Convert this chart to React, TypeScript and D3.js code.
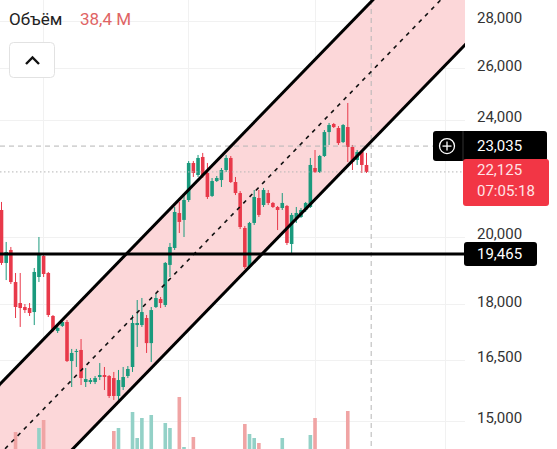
import React from 'react';
import * as d3 from 'd3';

const W = 557;
const H = 449;
const PLOT_R = 465;

const opens = [20849, 19195, 19588, 18632, 18032, 17920, 17892, 17780, 18779, 19406,
  18897, 17671, 17263, 17399, 17506, 16471, 16706, 16758, 15941, 15941,
  15941, 16066, 16116, 16091, 16040, 15597, 15817, 16091, 16319, 17423,
  17423, 17615, 16939, 17920, 18145, 17976, 19136, 19649, 20750, 20528,
  21177, 22436, 22019, 22647, 22088, 21311, 21813, 21847, 22191, 22612,
  21779, 21408, 20271, 19075, 20432, 21243, 21012, 21408, 21079, 20947,
  20914, 20980, 19772, 20592, 20623, 20849, 20947, 22261, 22121, 22682,
  23545, 23843, 23694, 23180, 23730, 23003, 22541, 22825, 22366];
const highs = [21112, 19834, 19680, 18897, 18897, 18004, 18032, 19045, 19989, 19496,
  18927, 17698, 17399, 17588, 17560, 16785, 16785, 17047, 16293, 16040,
  16091, 16420, 16319, 16116, 16193, 16243, 16319, 16344, 17698, 18117,
  18174, 17698, 17920, 18288, 18202, 19224, 19803, 20947, 21112, 21344,
  22506, 22506, 22718, 22790, 22436, 21916, 21985, 22261, 22718, 22682,
  21951, 21475, 20335, 20464, 21510, 21510, 21577, 21510, 21112, 20980,
  21408, 21012, 20752, 20947, 20914, 21112, 22612, 22895, 22718, 23619,
  23881, 23881, 23768, 23843, 24638, 23075, 22895, 22895, 22790];
const lows = [19136, 18690, 18575, 17615, 17371, 17753, 17671, 17423, 18632, 18779,
  17643, 17236, 17208, 17371, 16446, 15817, 16319, 15866, 15817, 15890,
  15890, 15990, 15743, 15549, 15501, 15501, 15743, 16040, 16193, 16837,
  17371, 16680, 16446, 17892, 17892, 17920, 18779, 19588, 20113, 19989,
  21112, 21951, 21951, 21916, 21210, 21277, 21779, 21611, 22121, 21746,
  21341, 20239, 19016, 19016, 20367, 20623, 20947, 21012, 20914, 20207,
  20849, 19741, 19496, 20432, 20592, 20784, 20914, 22088, 22088, 22647,
  23075, 23694, 23075, 23144, 22471, 22191, 22366, 22088, 22088];
const closes = [19195, 19527, 18632, 17920, 17892, 17835, 17753, 18927, 19436, 18867,
  17698, 17290, 17344, 17506, 16471, 16680, 16732, 16040, 16015, 15990,
  16040, 16116, 16066, 15597, 15597, 15990, 16066, 16268, 17478, 17478,
  17780, 16939, 17835, 18174, 18032, 19195, 19680, 20784, 20464, 21177,
  22436, 22088, 22612, 22019, 21277, 21813, 21916, 22191, 22612, 21779,
  21408, 20303, 19075, 20432, 21277, 20688, 21510, 21079, 20947, 20849,
  21079, 19803, 20688, 20752, 20849, 21079, 22366, 22121, 22682, 23545,
  23805, 23730, 23144, 23805, 23003, 22471, 22825, 22366, 22125];
const volumes = [12, 14, 10, 38, 9, 6, 7, 12, 42, 50,
  17, 11, 5, 6, 19, 12, 8, 16, 9, 5,
  6, 8, 10, 14, 39, 42, 12, 9, 58, 32,
  52, 18, 55, 14, 8, 47, 42, 19, 73, 23,
  20, 33, 12, 15, 18, 10, 6, 11, 13, 16,
  12, 19, 46, 36, 32, 27, 14, 10, 7, 12,
  32, 20, 19, 9, 8, 10, 35, 52, 14, 18,
  12, 7, 15, 13, 59, 21, 9, 11, 8];

const priceTicks = [28000, 26000, 24000, 20000, 18000, 16500, 15000];
const gridIdx = [8.9, 39.9, 67, 94.8];
const channelUpper: [number, number][] = [[0, 15927], [78, 28641]];
const channelLower: [number, number][] = [[0, 12806], [78, 23025]];
const supportLevel = 19465;
const crosshairPrice = 23035;
const crosshairIdx = 79;
const lastPrice = 22125;
const countdown = '07:05:18';
const legendLabel = 'Объём';
const legendValue = '38,4 M';

const GREEN = '#1a9a7d';
const RED = '#e8394a';
const FONT = 'Roboto, "Noto Sans", sans-serif';

const fmt = d3.format(',');

export default function App() {
  const x = d3.scaleLinear().domain([0, 78]).range([1.5, 366.5]);
  const y = d3.scaleLog().domain([15000, 28000]).range([421, 21]);
  const v = d3.scaleLinear().domain([0, 100]).range([470, 370]);

  const extend = (pts: [number, number][]) => {
    const [a, b] = pts.map(([i, p]) => [x(i), y(p)]);
    const slope = (b[1] - a[1]) / (b[0] - a[0]);
    const x0 = -20, x1 = PLOT_R + 20;
    return [[x0, a[1] + slope * (x0 - a[0])], [x1, a[1] + slope * (x1 - a[0])]];
  };
  const up = extend(channelUpper);
  const lo = extend(channelLower);
  const mid = [[up[0][0], (up[0][1] + lo[0][1]) / 2], [up[1][0], (up[1][1] + lo[1][1]) / 2]];
  const line = d3.line();
  const fillPath = `M${up[0][0]},${up[0][1]}L${up[1][0]},${up[1][1]}L${lo[1][0]},${lo[1][1]}L${lo[0][0]},${lo[0][1]}Z`;

  const bw = 3.6;
  const ySup = y(supportLevel);
  const yCross = y(crosshairPrice);
  const yLast = y(lastPrice);
  const xCross = x(crosshairIdx);
  const labelShift = -3;

  return (
    <div style={{ position: 'absolute', left: 0, top: 0 }}>
      <svg width={W} height={H} style={{ display: 'block', background: '#fff' }}>
        <defs>
          <clipPath id="plot">
            <rect x={0} y={0} width={PLOT_R} height={H} />
          </clipPath>
        </defs>
        {/* grid */}
        <g stroke="#f1f1f1" strokeWidth={1}>
          {priceTicks.map((t) => (
            <line key={t} x1={0} x2={PLOT_R} y1={Math.round(y(t)) + 0.5} y2={Math.round(y(t)) + 0.5} />
          ))}
          {gridIdx.map((g) => (
            <line key={g} x1={Math.round(x(g)) + 0.5} x2={Math.round(x(g)) + 0.5} y1={0} y2={H} />
          ))}
        </g>
        <g clipPath="url(#plot)">
          <path d={fillPath} fill="#fcd7d9" />
          {/* volumes */}
          {volumes.map((vol, i) => (
            <rect key={'v' + i} x={x(i) - bw / 2} width={bw} y={v(vol)} height={Math.max(0, v(0) - v(vol))}
              fill={closes[i] >= opens[i] ? '#93d1c7' : '#f0a4a4'} />
          ))}
          {/* candles */}
          {opens.map((o, i) => {
            const c = closes[i];
            const col = c >= o ? GREEN : RED;
            const top = y(Math.max(o, c));
            const bot = y(Math.min(o, c));
            return (
              <g key={'c' + i}>
                <line x1={x(i)} x2={x(i)} y1={y(highs[i])} y2={y(lows[i])} stroke={col} strokeWidth={1} />
                <rect x={x(i) - bw / 2} width={bw} y={top} height={Math.max(1, bot - top)} fill={col} />
              </g>
            );
          })}
          {/* crosshair + last price lines */}
          <line x1={0} x2={PLOT_R} y1={yCross} y2={yCross} stroke="#b5b5b5" strokeWidth={1} strokeDasharray="5,4" />
          <line x1={0} x2={PLOT_R} y1={yLast} y2={yLast} stroke="#b5b5b5" strokeWidth={1} strokeDasharray="1.5,2.5" />
          <line x1={xCross} x2={xCross} y1={0} y2={H} stroke="#b5b5b5" strokeWidth={1} strokeDasharray="5,4" />
          {/* channel */}
          <path d={line(mid as [number, number][]) || ''} stroke="#111" strokeWidth={1.6} strokeDasharray="4,5" fill="none" />
          <path d={line(up as [number, number][]) || ''} stroke="#000" strokeWidth={3} fill="none" />
          <path d={line(lo as [number, number][]) || ''} stroke="#000" strokeWidth={3} fill="none" />
          <line x1={0} x2={PLOT_R} y1={ySup} y2={ySup} stroke="#000" strokeWidth={3} />
        </g>
        {/* axis labels */}
        <g fontFamily={FONT} fontSize={15} fill="#333">
          {priceTicks.map((t) => (
            <text key={t} x={477} y={y(t) + labelShift} dy="0.36em">{fmt(t)}</text>
          ))}
        </g>
        {/* support label */}
        <rect x={464} y={ySup - 12} width={73} height={24} rx={3} fill="#000" />
        <text x={477} y={ySup} dy="0.36em" fontFamily={FONT} fontSize={15} fill="#fff">{fmt(supportLevel)}</text>
        {/* crosshair label */}
        <rect x={433} y={yCross - 15} width={114} height={30} rx={3} fill="#000" />
        <line x1={463} x2={463} y1={yCross - 15} y2={yCross + 15} stroke="#333" strokeWidth={1} />
        <circle cx={447} cy={yCross} r={7.5} fill="none" stroke="#fff" strokeWidth={1.3} />
        <line x1={442.5} x2={451.5} y1={yCross} y2={yCross} stroke="#fff" strokeWidth={1.3} />
        <line x1={447} x2={447} y1={yCross - 4.5} y2={yCross + 4.5} stroke="#fff" strokeWidth={1.3} />
        <text x={477} y={yCross} dy="0.36em" fontFamily={FONT} fontSize={15} fill="#fff">{fmt(crosshairPrice)}</text>
        {/* last price label */}
        <rect x={463} y={yLast - 13} width={86} height={47} rx={3} fill="#f23645" />
        <text x={477} y={yLast - 2} dy="0.36em" fontFamily={FONT} fontSize={15} fill="#ffe3e6">{fmt(lastPrice)}</text>
        <text x={477} y={yLast + 19} dy="0.36em" fontFamily={FONT} fontSize={15} fill="#ffe3e6">{countdown}</text>
        {/* legend */}
        <text x={9} y={25} fontFamily={FONT} fontSize={17} fill="#222">{legendLabel}</text>
        <text x={80} y={25} fontFamily={FONT} fontSize={17} fill="#e06464">{legendValue}</text>
        <rect x={9.5} y={42.5} width={45} height={35} rx={4} fill="#fff" stroke="#e2e2e2" />
        <polyline points="26,64 32.5,57.5 39,64" fill="none" stroke="#111" strokeWidth={2.4} />
      </svg>
    </div>
  );
}
